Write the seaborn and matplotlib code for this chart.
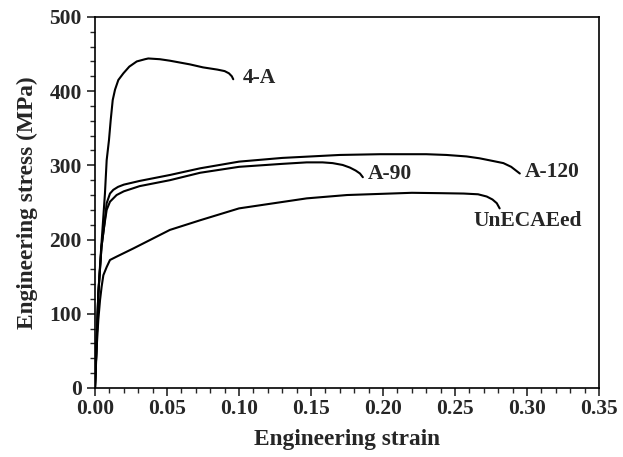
import numpy as np
import pandas as pd
import matplotlib
matplotlib.use('Agg')
import matplotlib.pyplot as plt
import seaborn as sns
from matplotlib.ticker import MultipleLocator

# Curves (strain, stress in MPa)
strain_4a = [0, 0.0007, 0.0023, 0.0038, 0.0053, 0.0069, 0.0081, 0.0097, 0.0109, 0.0123,
             0.0139, 0.0162, 0.0197, 0.0238, 0.029, 0.0347, 0.037, 0.045, 0.052, 0.066,
             0.075, 0.085, 0.09, 0.093, 0.095, 0.096]
stress_4a = [0, 38, 127, 175, 217, 262, 307, 334, 361, 388,
             402, 415, 424, 433, 440, 443, 444, 443, 441, 436,
             432, 429, 427, 424, 420, 416]

strain_a120 = [0, 0.0007, 0.0023, 0.0045, 0.0063, 0.0081, 0.0104, 0.0127, 0.016,
               0.02, 0.031, 0.052, 0.073, 0.1, 0.13, 0.17, 0.198, 0.23, 0.244, 0.258,
               0.267, 0.276, 0.2836, 0.289, 0.293, 0.295]
stress_a120 = [0, 38, 127, 190, 217, 249, 262, 267, 271,
               274, 279, 287, 296, 305, 310, 314, 315, 315, 314, 312,
               309.5, 306, 303, 298, 292, 289]

strain_a90 = [0, 0.0007, 0.0023, 0.0045, 0.0063, 0.0081, 0.0104, 0.015, 0.02,
              0.031, 0.052, 0.073, 0.1, 0.13, 0.147, 0.158, 0.165, 0.172, 0.177,
              0.181, 0.184, 0.186]
stress_a90 = [0, 38, 127, 190, 217, 240, 251, 260, 265,
              272, 280, 290, 298, 302, 304, 304, 303, 300.5, 297,
              293, 289, 284]

strain_un = [0, 0.0012, 0.0023, 0.0035, 0.0046, 0.0058, 0.0081, 0.0104, 0.015, 0.0266,
             0.052, 0.073, 0.1, 0.147, 0.175, 0.205, 0.22, 0.24, 0.256, 0.266,
             0.272, 0.276, 0.279, 0.281]
stress_un = [0, 56, 92, 118.6, 136.5, 152, 163, 172.5, 177, 188,
             213, 226, 242, 255.5, 260, 262, 263, 262.5, 262, 261,
             258, 254, 249, 242]

labels = ['4-A', 'A-120', 'A-90', 'UnECAEed']
label_pos = [(0.1025, 418), (0.2985, 291), (0.1895, 288), (0.2625, 225)]

frames = []
for name, xs, ys in zip(labels,
                        [strain_4a, strain_a120, strain_a90, strain_un],
                        [stress_4a, stress_a120, stress_a90, stress_un]):
    frames.append(pd.DataFrame({'strain': xs, 'stress': ys, 'sample': name}))
df = pd.concat(frames, ignore_index=True)

sns.set_style('ticks')
plt.rcParams['font.family'] = ['Liberation Serif', 'DejaVu Serif']
plt.rcParams['font.weight'] = 'bold'
plt.rcParams['lines.solid_capstyle'] = 'round'
plt.rcParams['lines.solid_joinstyle'] = 'round'

fig = plt.figure(figsize=(6.23, 4.57), dpi=100)
ax = fig.add_axes([0.1525, 0.151, 0.809, 0.812])

sns.lineplot(data=df, x='strain', y='stress', hue='sample', units='sample',
             estimator=None, sort=False, palette=['black'] * 4,
             linewidth=1.5, legend=False, ax=ax)

for name, (lx, ly) in zip(labels, label_pos):
    ax.text(lx, ly, name, fontsize=15.5, fontweight='bold', va='center', ha='left')

ax.set_xlim(0, 0.35)
ax.set_ylim(0, 500)
ax.xaxis.set_major_locator(MultipleLocator(0.05))
ax.xaxis.set_minor_locator(MultipleLocator(0.01))
ax.yaxis.set_major_locator(MultipleLocator(100))
ax.yaxis.set_minor_locator(MultipleLocator(20))
ax.xaxis.set_major_formatter(plt.FormatStrFormatter('%.2f'))
ax.tick_params(which='major', direction='out', length=6, width=1.2, labelsize=15.5)
ax.tick_params(axis='x', which='major', pad=2)
ax.tick_params(which='minor', direction='out', length=3.5, width=1.0)
for lab in ax.get_xticklabels() + ax.get_yticklabels():
    lab.set_fontweight('bold')
for sp in ax.spines.values():
    sp.set_linewidth(1.2)
    sp.set_color('black')

ax.set_xlabel('Engineering strain', fontsize=16.8, fontweight='bold', labelpad=7)
ax.set_ylabel('Engineering stress (MPa)', fontsize=16.8, fontweight='bold', labelpad=8)

fig.savefig('out.png', dpi=100)
